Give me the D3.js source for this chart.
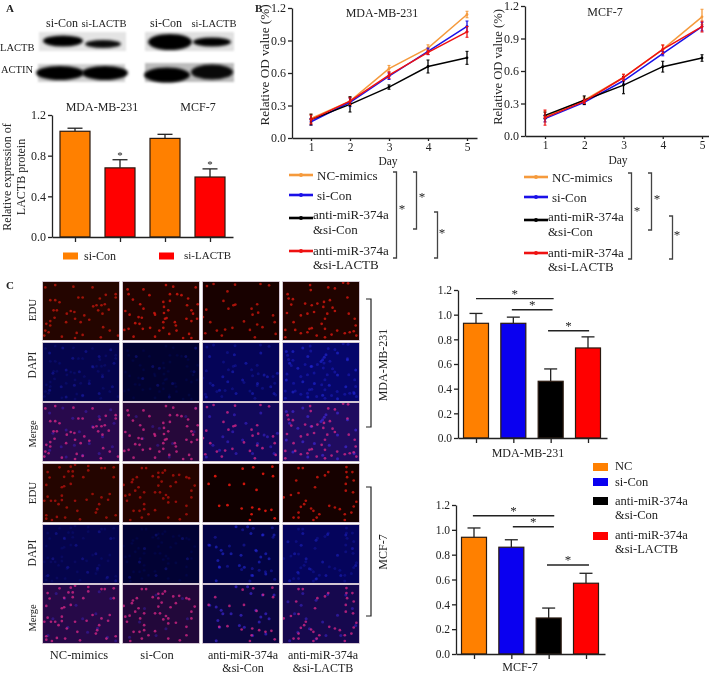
<!DOCTYPE html>
<html><head><meta charset="utf-8">
<style>html,body{margin:0;padding:0;background:#fff}svg{display:block}text{font-family:"Liberation Serif","Times New Roman",serif;fill:#222;filter:blur(.3px)}</style>
<script src="https://cdn.jsdelivr.net/npm/d3@7/dist/d3.min.js"></script>
</head><body><svg id="c" width="709" height="675"></svg>
<script>
// ---- data ----
const days=[1,2,3,4,5];
const odTicks=[0,0.3,0.6,0.9,1.2];
const mdaNC=[.18,.34,.64,.83,1.14], mdaNCe=[.04,.04,.03,.03,.03];
const mdaSi=[.15,.33,.57,.80,1.03], mdaSie=[.03,.04,.03,.03,.05];
const mdaAnti=[.17,.31,.47,.66,.74], mdaAntie=[.05,.07,.02,.06,.06];
const mdaLac=[.17,.34,.58,.79,.98], mdaLace=[.04,.03,.03,.02,.05];
const mcfNC=[.18,.33,.54,.80,1.10], mcfNCe=[.05,.03,.03,.04,.07];
const mcfSi=[.16,.31,.51,.76,1.01], mcfSie=[.03,.02,.03,.02,.04];
const mcfAnti=[.19,.33,.47,.64,.72], mcfAntie=[.03,.04,.08,.05,.03];
const mcfLac=[.17,.32,.54,.80,1.01], mcfLace=[.07,.02,.03,.04,.05];
const lactbVals=[1.04,.68,.97,.59], lactbErr=[.03,.08,.04,.08];
const eduMda=[.93,.93,.46,.73], eduMdaErr=[.08,.05,.10,.09];
const eduMcf=[.94,.86,.29,.57], eduMcfErr=[.075,.06,.08,.08];
const ticksA=[0,.4,.8,1.2], ticksC=[0,.2,.4,.6,.8,1,1.2];
const orange="#ff8000", blue="#0a00f0", black="#000", red="#ff0000";
const lineColors=["#f59a3c","#1a10e8","#000","#ee1111"];
const sigMda=[[0,2.08,1.13],[.96,2.05,1.04],[1.93,3.03,.87]];
const sigMcf=[[-.03,2.15,1.113],[1.04,2.14,1.025],[1.955,3.08,.717]];

// cells (units of the 3x crop)
const edu=[
[[15,22],[45,15],[100,20],[158,22],[228,42],[228,52],[198,44],[115,52],[128,52],[180,55],[30,60],[45,60],[58,66],[170,75],[160,78],[185,75],[195,72],[207,88],[175,90],[50,90],[40,90],[80,100],[92,92],[103,95],[133,105],[148,118],[188,100],[43,112],[30,122],[105,115],[78,125],[122,125],[18,130],[30,135],[15,150],[25,155],[12,165],[65,168],[110,157],[128,163],[183,170],[210,150],[235,165],[105,172],[190,140]],
[[262,28],[265,42],[310,28],[378,15],[400,20],[468,22],[328,45],[390,42],[412,42],[425,45],[445,55],[278,58],[300,72],[310,85],[370,65],[390,62],[442,75],[474,72],[372,80],[385,90],[255,92],[268,103],[343,98],[345,103],[372,98],[295,110],[305,112],[285,128],[375,115],[380,113],[370,125],[405,125],[408,135],[460,100],[455,90],[440,115],[472,115],[455,122],[265,145],[252,148],[298,130],[308,145],[330,142],[370,142],[410,150],[388,160],[448,160],[280,168],[345,168],[430,172],[455,172],[358,150]],
[[20,18],[40,12],[105,14],[182,12],[208,16],[82,34],[70,62],[172,72],[100,75],[106,73],[85,85],[18,88],[155,85],[175,97],[158,103],[8,110],[220,105],[225,125],[30,125],[132,123],[172,132],[188,140],[50,150],[75,147],[97,142],[15,158],[65,165],[228,160],[165,170],[150,148]],
[[262,42],[265,55],[278,57],[330,15],[332,30],[385,22],[405,25],[445,10],[430,8],[443,52],[273,73],[315,70],[335,75],[352,70],[372,65],[390,60],[370,80],[398,82],[405,92],[260,98],[302,105],[322,100],[342,95],[382,100],[447,100],[375,115],[465,115],[280,125],[365,130],[375,145],[328,145],[335,143],[322,155],[255,148],[285,148],[302,158],[412,150],[395,162],[435,158],[450,155],[462,152],[468,135],[470,165],[255,170],[350,165],[375,170]],
[[58,16],[92,14],[105,8],[145,12],[185,18],[195,18],[222,16],[85,28],[98,28],[145,25],[22,30],[72,44],[98,42],[130,45],[222,45],[28,46],[18,68],[65,75],[72,72],[92,65],[22,103],[65,100],[158,95],[210,95],[12,115],[32,115],[45,115],[65,113],[55,125],[105,115],[140,112],[185,105],[205,112],[178,125],[172,140],[80,135],[112,145],[18,158],[50,163],[75,165],[200,165],[228,158],[35,172],[168,150],[18,168],[120,170]],
[[305,18],[318,18],[375,25],[355,32],[338,42],[355,45],[368,32],[400,40],[418,38],[440,45],[448,48],[290,45],[278,52],[275,60],[250,68],[365,58],[408,60],[465,70],[355,70],[392,72],[295,75],[285,85],[312,90],[255,100],[268,97],[300,105],[345,90],[360,90],[378,98],[385,105],[370,108],[455,85],[455,105],[408,118],[385,120],[260,115],[440,130],[312,125],[345,143],[280,145],[298,145],[312,140],[325,155],[305,165],[385,165],[440,155],[420,170],[270,172]],
[[218,14],[160,16],[128,20],[190,35],[220,42],[45,42],[25,65],[88,68],[132,65],[170,83],[157,135],[178,140],[125,138],[82,128],[57,130],[197,145],[155,155],[225,167],[150,172],[215,142]],
[[295,18],[308,18],[440,15],[458,30],[440,30],[442,45],[352,45],[288,55],[375,40],[385,30],[438,65],[462,55],[345,75],[438,85],[295,92],[272,98],[250,105],[460,90],[317,115],[312,125],[302,133],[333,138],[340,145],[388,130],[405,135],[470,118],[462,132],[295,150],[358,155],[295,165],[280,165],[340,172],[350,165],[435,155],[435,172],[420,140],[455,150]]
];
const dapi=[
[[20,30],[60,15],[90,45],[130,25],[170,40],[205,20],[215,60],[150,70],[110,85],[70,80],[30,90],[180,100],[140,120],[95,125],[55,130],[20,140],[210,130],[170,150],[120,155],[70,160]],
[[90,70],[110,75],[105,125],[150,120],[215,85],[40,40],[140,160],[190,40],[220,15],[60,105]],
[[60,100],[75,115],[90,85],[185,95],[195,100],[165,120],[120,110],[30,125],[50,140],[100,150],[150,150],[205,130],[225,90],[20,40],[130,60],[175,30],[95,35],[215,150],[10,160]],
[[120,50],[125,42],[115,55],[130,35],[60,15],[75,40],[30,25],[10,25],[20,60],[45,75],[85,70],[165,30],[195,50],[220,80],[165,95],[60,115],[95,120],[140,125],[190,130],[30,145],[75,160],[120,155],[165,165],[215,150],[10,110]],
[[65,40],[30,100],[135,140],[165,128],[195,155],[220,165],[40,25],[100,60],[170,20],[205,40],[120,100],[75,125],[15,150],[160,85]],
[[65,70],[50,110],[20,155],[100,150],[180,40],[195,100],[130,130],[100,30]],
[[20,60],[40,65],[55,75],[45,105],[60,85],[85,85],[115,90],[160,75],[175,95],[190,85],[200,100],[170,110],[110,120],[125,125],[50,125],[145,25],[180,30],[215,30],[150,150],[190,145],[40,165],[100,5],[135,5]],
[[135,28],[100,45],[55,60],[35,85],[15,50],[70,100],[120,110],[165,90],[210,70],[220,120],[80,130],[45,140],[130,150],[175,150],[20,165],[100,160],[190,30],[60,25]]
];
const eduBg=["#240500","#220300","#180100","#200300","#240500","#240300","#100000","#160100"];
const dapiBg=["#05044c","#020230","#050458","#06066a","#05044c","#020234","#030344","#05045c"];
const mergeBg=["#28094c","#26083a","#12085a","#200c60","#260948","#22083a","#0c0640","#16084e"];
const eduAlpha=[.6,.7,.65,.7,.55,.55,.85,.7];
const dapiAlpha=[.12,.08,.22,.3,.1,.08,.32,.2];
const colXs=[43,123,203,283], rowYs=[282,343,403,464,525,585];

const blots=[
 {x:38,y:31,w:89,h:21,bg:"#e4e4e4",bands:[[63,41,20,5.5,1],[103,44,18,4,.95]]},
 {x:37,y:63,w:89,h:20,bg:"#d0d0d0",bands:[[60,73,24,7,1],[105,73,23,7,1]]},
 {x:144,y:31,w:91,h:21,bg:"#e0e0e0",bands:[[170,42,22,8,1],[212,42,19,4.5,1]]},
 {x:144,y:62,w:91,h:21,bg:"#bcbcbc",bands:[[167,75,23,7.5,1],[212,72,21,7.5,.95]]}
];

// ---- setup ----
const svg=d3.select("#c");
const defs=svg.append("defs");
[["b05",.6],["b1",1],["b2",1.7]].forEach(([id,s])=>defs.append("filter").attr("id",id).attr("x","-30%").attr("y","-60%").attr("width","160%").attr("height","220%").append("feGaussianBlur").attr("stdDeviation",s));

function txt(x,y,s,size,o={}){
  const t=svg.append("text").attr("x",x).attr("y",y).attr("font-size",size).attr("text-anchor",o.anchor||"start").attr("dominant-baseline","central").text(s);
  if(o.rot)t.attr("transform",`rotate(${o.rot} ${x} ${y})`);
  if(o.bold)t.attr("font-weight","bold");
  return t;
}
function axis(g,gen,size){
  g.call(gen);
  g.selectAll("path,line").attr("stroke","#222").attr("stroke-width",1.3);
  g.selectAll("text").attr("font-size",size).attr("font-family",'"Liberation Serif"').attr("fill","#222");
  return g;
}

// ---- panel letters ----
txt(6,8,"A",11,{bold:true}); txt(255,8,"B",11,{bold:true}); txt(6,285,"C",11,{bold:true});

// ---- blots ----
blots.forEach(b=>{
  const g=svg.append("g");
  g.append("rect").attr("x",b.x+1).attr("y",b.y+1).attr("width",b.w-2).attr("height",b.h-2).attr("fill",b.bg).attr("filter","url(#b1)");
  b.bands.forEach(a=>g.append("ellipse").attr("cx",a[0]).attr("cy",a[1]).attr("rx",a[2]).attr("ry",a[3]).attr("fill","#050505").attr("opacity",a[4]).attr("filter","url(#b2)"));
});
txt(62,23,"si-Con",12,{anchor:"middle"}); txt(104,23,"si-LACTB",10.5,{anchor:"middle"});
txt(166,23,"si-Con",12,{anchor:"middle"}); txt(214,23,"si-LACTB",10.5,{anchor:"middle"});
txt(0,47,"LACTB",10.5); txt(1,69,"ACTIN",10.5);

// ---- bars ----
function bars(cfg){
  const y=d3.scaleLinear().domain([0,1.2]).range([cfg.y0,cfg.y1]);
  const x=d3.scalePoint().domain(d3.range(cfg.vals.length)).range([cfg.x0,cfg.x1]);
  const g=svg.append("g");
  cfg.vals.forEach((v,i)=>{
    const cx=x(i), top=y(v+cfg.err[i]);
    g.append("line").attr("x1",cx).attr("x2",cx).attr("y1",y(v)).attr("y2",top).attr("stroke","#222").attr("stroke-width",1.3);
    g.append("line").attr("x1",cx-cfg.cap).attr("x2",cx+cfg.cap).attr("y1",top).attr("y2",top).attr("stroke","#222").attr("stroke-width",1.3);
    g.append("rect").attr("x",cx-cfg.w/2).attr("y",y(v)).attr("width",cfg.w).attr("height",y(0)-y(v)).attr("fill",cfg.colors[i]).attr("stroke","#2a1a10").attr("stroke-width",1.2);
  });
  axis(svg.append("g").attr("transform",`translate(${cfg.axisX},0)`),d3.axisLeft(y).tickValues(cfg.ticks).tickFormat(d3.format(".1f")).tickSize(4).tickPadding(2).tickSizeOuter(0),cfg.font);
  const bx=d3.scaleLinear().domain([cfg.axisX,cfg.axisEnd]).range([cfg.axisX,cfg.axisEnd]);
  axis(svg.append("g").attr("transform",`translate(0,${cfg.y0})`),d3.axisBottom(bx).tickValues(x.domain().map(x)).tickFormat("").tickSize(5).tickSizeOuter(0),cfg.font);
  const step=x.step();
  (cfg.sig||[]).forEach(s=>{
    const a=cfg.x0+s[0]*step,b=cfg.x0+s[1]*step;
    svg.append("line").attr("x1",a).attr("x2",b).attr("y1",y(s[2])).attr("y2",y(s[2])).attr("stroke","#222").attr("stroke-width",1.4);
    txt((a+b)/2,y(s[2])-5,"*",13,{anchor:"middle"});
  });
  return {x,y};
}
const A=bars({vals:lactbVals,err:lactbErr,colors:[orange,red,orange,red],x0:75,x1:210,y0:237,y1:115,w:30,cap:7.5,axisX:52,axisEnd:233,ticks:ticksA,font:12});
[1,3].forEach(i=>txt(A.x(i),A.y(lactbVals[i]+lactbErr[i])-5,"*",11,{anchor:"middle"}));
txt(102,107,"MDA-MB-231",12,{anchor:"middle"}); txt(198,107,"MCF-7",12,{anchor:"middle"});
txt(7,177,"Relative expression of",12,{anchor:"middle",rot:-90});
txt(21,177,"LACTB protein",12,{anchor:"middle",rot:-90});
svg.append("rect").attr("x",63).attr("y",252.5).attr("width",15).attr("height",7).attr("fill",orange);
svg.append("rect").attr("x",159).attr("y",252.5).attr("width",15).attr("height",7).attr("fill",red);
txt(84,256,"si-Con",12); txt(184,255,"si-LACTB",11);

bars({vals:eduMda,err:eduMdaErr,colors:[orange,blue,black,red],x0:476,x1:588,y0:438,y1:290,w:25,cap:6.5,axisX:458,axisEnd:607,ticks:ticksC,font:11.5,sig:sigMda});
txt(528,453,"MDA-MB-231",12,{anchor:"middle"});
bars({vals:eduMcf,err:eduMcfErr,colors:[orange,blue,black,red],x0:474,x1:586,y0:654,y1:505,w:25,cap:6.5,axisX:456,axisEnd:605,ticks:ticksC,font:11.5,sig:sigMcf});
txt(520,667,"MCF-7",12,{anchor:"middle"});

// C legend
const legC=[[467,orange],[482,blue],[501,black],[536,red]];
legC.forEach(([yy,c])=>svg.append("rect").attr("x",593).attr("y",yy-4).attr("width",15).attr("height",8).attr("fill",c));
[[466,"NC"],[482,"si-Con"],[501,"anti-miR-374a"],[514.5,"&si-Con"],[535,"anti-miR-374a"],[549,"&si-LACTB"]].forEach(([yy,s])=>txt(615,yy,s,12.5));

// ---- line charts ----
function lines(cfg){
  const x=d3.scaleLinear().domain([1,5]).range([cfg.x1,cfg.x5]);
  const y=d3.scaleLinear().domain([0,1.2]).range([cfg.y0,cfg.y1]);
  const line=d3.line().x((d,i)=>x(days[i])).y(d=>y(d));
  cfg.series.forEach(([vals,errs],k)=>{
    const c=lineColors[k], g=svg.append("g");
    g.append("path").attr("d",line(vals)).attr("fill","none").attr("stroke",c).attr("stroke-width",1.5);
    vals.forEach((v,i)=>{
      const X=x(days[i]);
      g.append("line").attr("x1",X).attr("x2",X).attr("y1",y(v-errs[i])).attr("y2",y(v+errs[i])).attr("stroke",c).attr("stroke-width",1.3);
      [v-errs[i],v+errs[i]].forEach(e=>g.append("line").attr("x1",X-1.5).attr("x2",X+1.5).attr("y1",y(e)).attr("y2",y(e)).attr("stroke",c).attr("stroke-width",1));
      g.append("circle").attr("cx",X).attr("cy",y(v)).attr("r",1.4).attr("fill",c);
    });
  });
  axis(svg.append("g").attr("transform",`translate(${cfg.axisX},0)`),d3.axisLeft(y).tickValues(odTicks).tickFormat(d3.format(".1f")).tickSize(4).tickPadding(2).tickSizeOuter(0),12);
  const bx=d3.scaleLinear().domain([(cfg.axisX-cfg.x1)/((cfg.x5-cfg.x1)/4)+1,(cfg.axisEnd-cfg.x1)/((cfg.x5-cfg.x1)/4)+1]).range([cfg.axisX,cfg.axisEnd]);
  axis(svg.append("g").attr("transform",`translate(0,${cfg.y0})`),d3.axisBottom(bx).tickValues(days).tickFormat(d3.format("d")).tickSize(3).tickPadding(2).tickSizeOuter(0),11.5);
  const L=cfg.leg;
  [[L.y[0],0],[L.y[1],1],[L.y[2],2],[L.y[3],3]].forEach(([yy,k])=>{
    svg.append("line").attr("x1",L.x).attr("x2",L.x+24).attr("y1",yy).attr("y2",yy).attr("stroke",lineColors[k]).attr("stroke-width",2.6);
    svg.append("circle").attr("cx",L.x+12).attr("cy",yy).attr("r",2).attr("fill",lineColors[k]);
  });
  txt(L.x+28,L.y[0],"NC-mimics",13); txt(L.x+28,L.y[1],"si-Con",13);
  txt(L.x+24,L.y[2]-4,"anti-miR-374a",13); txt(L.x+24,L.y[2]+11,"&si-Con",13);
  txt(L.x+24,L.y[3]-1,"anti-miR-374a",13); txt(L.x+24,L.y[3]+13,"&si-LACTB",13);
  cfg.br.forEach(([x0,y0,y1,sx,sy])=>{
    svg.append("path").attr("d",d3.line()([[x0,y0],[x0+3.5,y0],[x0+3.5,y1],[x0,y1]])).attr("fill","none").attr("stroke","#444").attr("stroke-width",1.3);
    txt(sx,sy+1,"*",13,{anchor:"middle"});
  });
}
lines({series:[[mdaNC,mdaNCe],[mdaSi,mdaSie],[mdaAnti,mdaAntie],[mdaLac,mdaLace]],x1:311,x5:467,y0:138,y1:8,axisX:292,axisEnd:477,
  leg:{x:289,y:[175,195,218,251]},br:[[393,172,258,402,207],[413,172,229,422,195],[434,212,258,442,231]]});
txt(264,65,"Relative OD value (%)",13.2,{anchor:"middle",rot:-90}); txt(388,161,"Day",11.5,{anchor:"middle"}); txt(382,13,"MDA-MB-231",12,{anchor:"middle"});
lines({series:[[mcfNC,mcfNCe],[mcfSi,mcfSie],[mcfAnti,mcfAntie],[mcfLac,mcfLace]],x1:545,x5:702,y0:136,y1:6,axisX:525,axisEnd:709,
  leg:{x:524,y:[177,197,220,253]},br:[[628,173,259,637,209],[648,173,230,657,197],[669,216,259,677,233]]});
txt(498,67,"Relative OD value (%)",12.6,{anchor:"middle",rot:-90}); txt(618,160,"Day",11.5,{anchor:"middle"}); txt(605,12,"MCF-7",12,{anchor:"middle"});

// ---- micrographs ----
function frame(px,py,bg){
  const g=svg.append("g").attr("transform",`translate(${px},${py})`);
  const id=`clip${px}_${py}`;
  defs.append("clipPath").attr("id",id).append("rect").attr("width",76).attr("height",58);
  const inner=g.append("g").attr("clip-path",`url(#${id})`);
  inner.append("rect").attr("width",76).attr("height",58).attr("fill",bg);
  g.append("rect").attr("x",-.4).attr("y",-.4).attr("width",76.8).attr("height",58.8).attr("fill","none").attr("stroke","#c8b8c8").attr("stroke-width",.8);
  return inner;
}
function dots(g,arr,dom,domY,color,r,alpha){
  const sx=d3.scaleLinear().domain(dom).range([0,76]);
  const sy=d3.scaleLinear().domain(domY).range([0,58]);
  g.append("g").attr("filter","url(#b05)").selectAll("circle").data(arr).join("circle")
   .attr("cx",d=>sx(d[0])).attr("cy",d=>sy(d[1])).attr("r",r).attr("fill",color).attr("opacity",alpha);
}
for(let gi=0;gi<2;gi++){
  for(let c=0;c<4;c++){
    const idx=gi*4+c, dom=(c%2)?[248,478]:[8,238], domY=[6,178];
    const e=frame(colXs[c],rowYs[gi*3],eduBg[idx]);
    dots(e,edu[idx],dom,domY,"#f01a10",1.35,eduAlpha[idx]);
    const da=frame(colXs[c],rowYs[gi*3+1],dapiBg[idx]);
    dots(da,dapi[idx],[0,230],[0,172],"#2a30ff",1.5,dapiAlpha[idx]+.15);
    dots(da,edu[idx],dom,domY,"#2a30ff",1.5,dapiAlpha[idx]);
    const m=frame(colXs[c],rowYs[gi*3+2],mergeBg[idx]);
    dots(m,dapi[idx],[0,230],[0,172],"#4a30ff",1.5,dapiAlpha[idx]+.2);
    dots(m,edu[idx],dom,domY,"#e8288c",1.35,.7);
  }
}
[[310,"EDU",11],[365,"DAPI",11.5],[434,"Merge",10.5],[493,"EDU",11],[553,"DAPI",11.5],[618,"Merge",10.5]].forEach(([yy,s,f])=>txt(32,yy,s,f,{anchor:"middle",rot:-90}));
[[79,"NC-mimics"],[157,"si-Con"]].forEach(([xx,s])=>txt(xx,655,s,12.5,{anchor:"middle"}));
[243,323].forEach(xx=>txt(xx,655,"anti-miR-374a",12,{anchor:"middle"}));
txt(243,667.5,"&si-Con",12,{anchor:"middle"}); txt(323,667.5,"&si-LACTB",12,{anchor:"middle"});
[[299,427,365,"MDA-MB-231"],[487,616,552,"MCF-7"]].forEach(([a,b,m,s])=>{
  svg.append("path").attr("d",d3.line()([[366,a],[371,a],[371,b],[366,b]])).attr("fill","none").attr("stroke","#222").attr("stroke-width",1.2);
  txt(383,m,s,12,{anchor:"middle",rot:-90});
});
</script></body></html>
